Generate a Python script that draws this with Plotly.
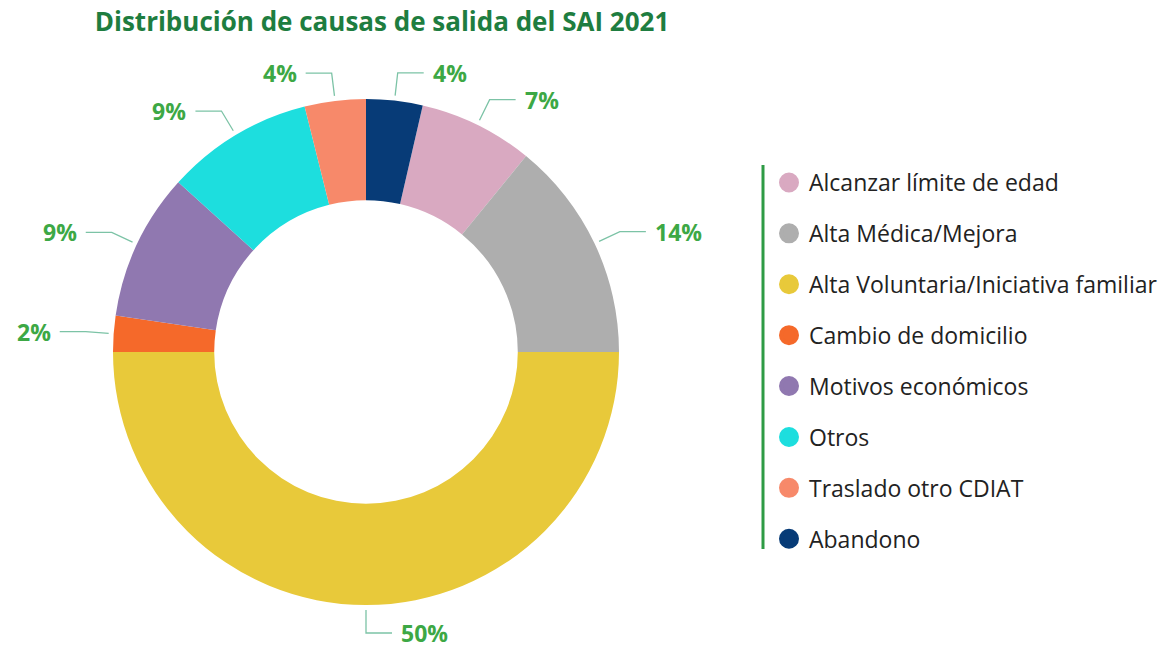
import math
import plotly.graph_objects as go

# ---- data ----
labels = ["Alcanzar límite de edad", "Alta Médica/Mejora", "Alta Voluntaria/Iniciativa familiar",
          "Cambio de domicilio", "Motivos económicos", "Otros", "Traslado otro CDIAT", "Abandono"]
values = [7.3, 14.1, 50.0, 2.3, 9.4, 9.4, 3.9, 3.6]
colors = ["#D9A9C1", "#AEAEAE", "#E8C93A", "#F5692A", "#9078B0", "#1DDEDE", "#F7896A", "#073B77"]
title = "Distribución de causas de salida del SAI 2021"

W, H = 1166, 652
CX, CY, R = 366, 352, 253   # donut centre / radius in px
HOLE = 0.6
FONT = "Open Sans"
TXT_GREEN = "#3DA845"
LINE_COL = "#7CC3A6"

total = sum(values)
# first slice (Alcanzar) starts after Abandono (last slice) measured clockwise from 12 o'clock
rotation = values[-1] / total * 360.0

fig = go.Figure()
fig.add_trace(go.Pie(
    labels=labels, values=values, sort=False, direction="clockwise", rotation=rotation,
    hole=HOLE, marker=dict(colors=colors, line=dict(width=0)), textinfo="none",
    showlegend=False, hoverinfo="label+percent",
    domain=dict(x=[(CX - R) / W, (CX + R) / W], y=[(H - CY - R) / H, (H - CY + R) / H]),
))

# leader lines + percentage labels computed from the data
cum = rotation
annotations = []
for lab, v in zip(labels, values):
    frac = v / total
    mid = math.radians(cum + frac * 360 / 2)
    cum += frac * 360
    s, c = math.sin(mid), math.cos(mid)
    x1, y1 = CX + (R + 5) * s, CY - (R + 5) * c
    x2, y2 = CX + (R + 28) * s, CY - (R + 28) * c
    side = 1 if s > -1e-9 else -1
    x3 = x2 + side * 26
    fig.add_trace(go.Scatter(x=[x1, x2, x3], y=[y1, y2, y2], mode="lines",
                             line=dict(color=LINE_COL, width=1.3), showlegend=False,
                             hoverinfo="skip"))
    annotations.append(dict(x=x3 + side * 7, y=y2, xref="x", yref="y",
                            text="<b>%d%%</b>" % round(frac * 100), showarrow=False,
                            xanchor="left" if side > 0 else "right", yanchor="middle",
                            font=dict(family=FONT, size=23, color=TXT_GREEN)))

# legend entries (round symbols)
for i, (lab, col) in enumerate(zip(labels, colors)):
    fig.add_trace(go.Scatter(x=[None], y=[None], mode="markers", name=lab,
                             legendgroup="g%d" % i,
                             marker=dict(symbol="circle", size=16, color=col,
                                         line=dict(color=col, width=4))))

fig.update_layout(
    width=W, height=H, margin=dict(l=0, r=0, t=0, b=0),
    paper_bgcolor="white", plot_bgcolor="white",
    title=dict(text="<b>" + title + "</b>", x=382 / W, xanchor="center", y=1 - 22 / H,
               yanchor="middle", font=dict(family=FONT, size=26, color="#1E7D40")),
    xaxis=dict(range=[0, W], visible=False, domain=[0, 1], fixedrange=True),
    yaxis=dict(range=[H, 0], visible=False, domain=[0, 1], fixedrange=True),
    legend=dict(x=769 / W, xanchor="left", y=1 - 161 / H, yanchor="top",
                font=dict(family=FONT, size=23, color="#222222"),
                tracegroupgap=18, itemclick=False, itemdoubleclick=False,
                bgcolor="rgba(0,0,0,0)"),
    annotations=annotations,
    shapes=[dict(type="line", xref="paper", yref="paper", x0=763 / W, x1=763 / W,
                 y0=1 - 165 / H, y1=1 - 549 / H, line=dict(color="#2E9B45", width=3))],
    showlegend=True,
)

fig.write_html("out.html", config={"displayModeBar": False},
               post_script="document.body.style.margin='0';document.body.style.padding='0';")
